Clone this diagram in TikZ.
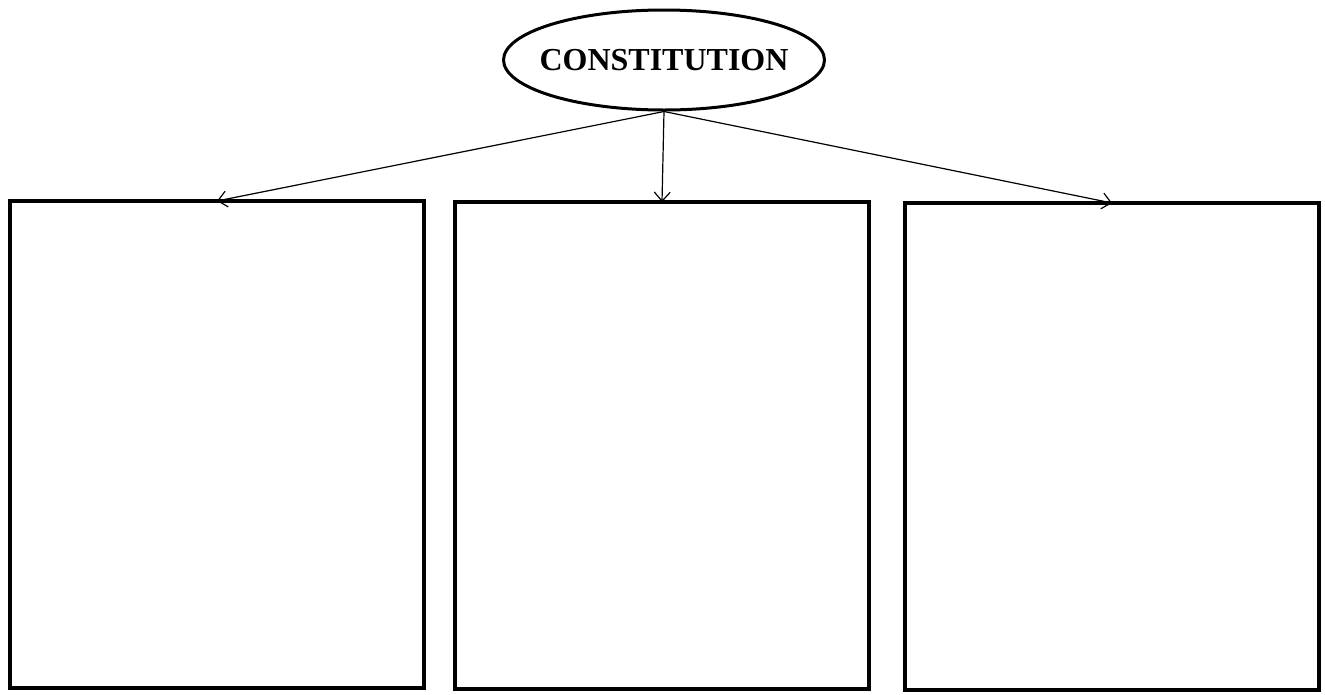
\documentclass[tikz,border=0pt]{standalone}
\usepackage{fontspec}
\setmainfont{Liberation Serif}
\usetikzlibrary{arrows.meta,positioning,shapes.geometric}

\begin{document}
\begin{tikzpicture}[
  x=1pt,y=-1pt,
  blk/.style={draw,line width=3.5pt,minimum width=414pt,minimum height=487pt,inner sep=0pt,outer sep=0pt},
  top/.style={ellipse,draw,line width=3pt,minimum width=320pt,minimum height=100pt,inner xsep=-11pt,inner ysep=0pt,font=\fontsize{32}{36}\selectfont\bfseries},
  ar/.style={-{Straight Barb[length=9pt,width=16pt]},line width=1.2pt}
]
\useasboundingbox (0,0) rectangle (1325,694);
\node[top] (con) at (664,60) {CONSTITUTION};
\node[blk,anchor=north west] (box1) at (10,201) {};
\node[blk,anchor=north west] (box2) at (455,202) {};
\node[blk,anchor=north west] (box3) at (905,203) {};
\draw[ar] (con.south) -- (box1.north);
\draw[ar] (con.south) -- (box2.north);
\draw[ar] (con.south) -- (box3.north);
\end{tikzpicture}
\end{document}
